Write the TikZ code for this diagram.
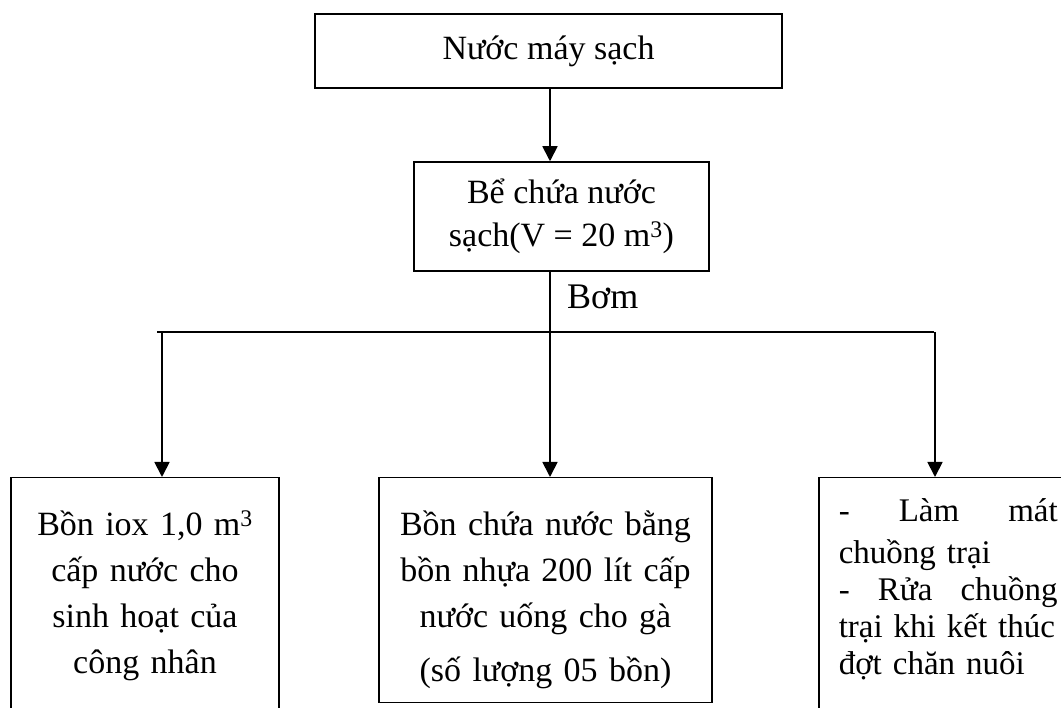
\documentclass[tikz,border=0pt]{standalone}
\usepackage{fontspec}
\setmainfont{Liberation Serif}
\usetikzlibrary{arrows.meta}

\tikzset{
  box/.style={draw, line width=1.5pt, align=center, font=\fontsize{34}{43}\selectfont},
  bin/.style={draw, line width=1.5pt, anchor=north, inner xsep=0pt, font=\fontsize{34}{46}\selectfont},
  flow/.style={line width=1.8pt, -{Triangle[length=15pt,width=15pt]}},
  pipe/.style={line width=1.3pt}
}

\begin{document}
\begin{tikzpicture}[x=1pt, y=-1pt]
    \clip (0,0) rectangle (1061,708);
    % source and tank
    \node[box, line width=2.4pt, minimum width=467pt, minimum height=74pt] (source) at (548.5,51) {Nước máy sạch};
    \node[box, minimum width=295pt, minimum height=109pt] (tank) at (561.5,216.5) {Bể chứa nước\\sạch(V = 20 m\textsuperscript{3})};
    \coordinate (pump) at (550,332);
    \coordinate (busL) at (157,332);
    \coordinate (busR) at (934,332);
    \coordinate (tapL) at (162,332);
    \coordinate (tapR) at (935,332);
    \draw[flow] (source.south -| pump) -- (tank.north -| pump);
    \draw[pipe, line width=1.8pt] (tank.south -| pump) -- (pump);
    \draw[pipe] (busL) -- (busR);
    \node[font=\fontsize{36}{40}\selectfont, anchor=base west, inner sep=0pt] (pumplabel) at (567,309) {Bơm};
    % consumers
    \node[bin, text width=268pt, align=center, inner ysep=33pt, text depth=200pt] (iox) at (145,477)
        {Bồn iox 1,0 m\textsuperscript{3}\\cấp nước cho\\sinh hoạt của\\công nhân};
    \node[bin, text width=333pt, align=center, inner ysep=33pt, text depth=134pt] (drink) at (545.5,477)
        {Bồn chứa nước bằng\\bồn nhựa 200 lít cấp\\nước uống cho gà\\[8pt](số lượng 05 bồn)};
    \node[bin, anchor=north west, inner xsep=20pt, inner ysep=21pt, text width=219pt, align=left,
        font=\fontsize{33}{37}\selectfont, text depth=220pt] (wash) at (818,477)
        {-\hfill Làm\hfill mát\\[5pt]chuồng trại\\-\hfill Rửa\hfill chuồng\\trại khi kết thúc\\đợt chăn nuôi};
    \draw[flow] (tapL) -- (tapL |- iox.north);
    \draw[flow] (pump) -- (drink.north -| pump);
    \draw[flow] (tapR) -- (tapR |- wash.north);
\end{tikzpicture}
\end{document}
